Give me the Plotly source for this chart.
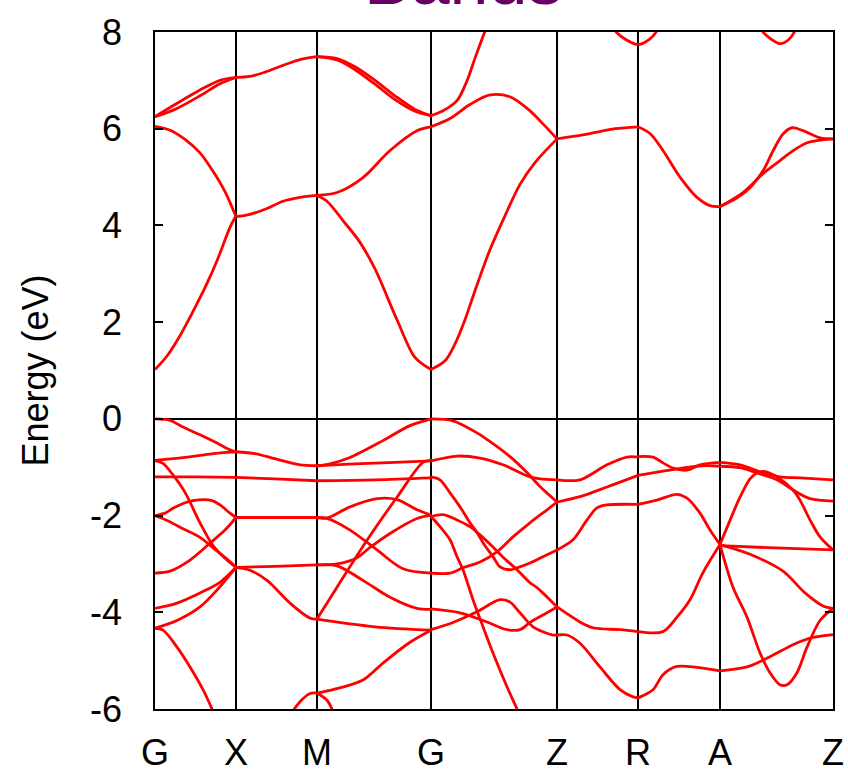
import plotly.graph_objects as go

# High-symmetry points along the k-path
SYM_LABELS = ["G", "X", "M", "G", "Z", "R", "A", "Z"]
SYM_K = [0, 0.81, 1.62, 2.76, 4.02, 4.83, 5.65, 6.78]

# Energy axis ticks
Y_TICKS = [-6, -4, -2, 0, 2, 4, 6, 8]
Y_TICK_TEXT = ["-6", "-4", "-2", "0", "2", "4", "6", "8"]

# ---------------- conduction bands (k, E in eV) ----------------
C01_K = [0, 0.2, 0.45, 0.65, 0.81];                 C01_E = [6.25, 6.5, 6.8, 7.0, 7.06]
C02_K = [0, 0.2, 0.45, 0.65, 0.81];                 C02_E = [6.25, 6.4, 6.68, 6.93, 7.06]
C03_K = [0, 0.15, 0.3, 0.45, 0.58, 0.7, 0.81];      C03_E = [6.05, 5.97, 5.78, 5.5, 5.12, 4.7, 4.18]
C04_K = [0, 0.12, 0.25, 0.4, 0.52, 0.62, 0.75, 0.81]; C04_E = [1.02, 1.3, 1.72, 2.3, 2.8, 3.27, 3.96, 4.2]
C05_K = [0.81, 0.95, 1.1, 1.28, 1.45, 1.62];        C05_E = [7.06, 7.08, 7.17, 7.31, 7.43, 7.49]
C06_K = [0.81, 0.95, 1.12, 1.28, 1.45, 1.62];       C06_E = [4.18, 4.23, 4.35, 4.5, 4.58, 4.62]
C07_K = [1.62, 1.82, 2.0, 2.2, 2.4, 2.6, 2.76];     C07_E = [7.49, 7.45, 7.28, 7.0, 6.68, 6.4, 6.27]
C08_K = [1.62, 1.82, 2.0, 2.2, 2.4, 2.6, 2.76];     C08_E = [7.49, 7.42, 7.22, 6.92, 6.6, 6.36, 6.27]
C09_K = [1.62, 1.82, 2.08, 2.35, 2.62, 2.76];       C09_E = [4.62, 4.68, 4.99, 5.55, 5.96, 6.04]
C10_K = [1.62, 1.72, 1.88, 2.05, 2.2, 2.42, 2.6, 2.76]; C10_E = [4.62, 4.5, 4.1, 3.65, 3.1, 2.05, 1.27, 1.02]
C11_K = [2.76, 2.9, 3.0, 3.1, 3.2, 3.35, 3.5, 3.65, 3.8, 4.02]; C11_E = [1.02, 1.2, 1.55, 2.05, 2.65, 3.5, 4.2, 4.85, 5.3, 5.79]
C12_K = [2.76, 2.95, 3.15, 3.35, 3.55, 3.75, 3.88, 4.02]; C12_E = [6.04, 6.21, 6.5, 6.7, 6.66, 6.37, 6.1, 5.79]
C13_K = [2.76, 2.88, 3.02, 3.12, 3.2, 3.3, 3.34];   C13_E = [6.27, 6.37, 6.58, 6.99, 7.46, 8.02, 8.25]
C14_K = [4.02, 4.35, 4.6, 4.83];                    C14_E = [5.79, 5.9, 6.0, 6.04]
C15_K = [4.83, 4.95, 5.08, 5.25, 5.42, 5.55, 5.65]; C15_E = [6.04, 5.9, 5.55, 5.0, 4.58, 4.41, 4.39]
C16_K = [5.65, 5.82, 5.95, 6.08, 6.18, 6.28, 6.37, 6.48, 6.65, 6.78]; C16_E = [4.39, 4.57, 4.78, 5.13, 5.54, 5.89, 6.02, 5.96, 5.81, 5.79]
C17_K = [5.65, 5.88, 6.08, 6.25, 6.35, 6.52, 6.78]; C17_E = [4.39, 4.68, 5.07, 5.34, 5.5, 5.71, 5.79]
C18_K = [4.56, 4.6, 4.72, 4.83, 4.95, 5.02, 5.06];  C18_E = [8.3, 8.03, 7.83, 7.74, 7.86, 8.03, 8.3]
C19_K = [6.04, 6.07, 6.15, 6.25, 6.33, 6.4, 6.43];  C19_E = [8.3, 8.03, 7.87, 7.76, 7.83, 8.03, 8.3]

# ---------------- valence bands (k, E in eV) ----------------
V01_K = [0, 0.15, 0.28, 0.45, 0.62, 0.75, 0.81];    V01_E = [0, -0.03, -0.17, -0.33, -0.5, -0.64, -0.68]
V02_K = [0, 0.1, 0.28, 0.55, 0.75, 0.81];          V02_E = [-0.86, -0.84, -0.8, -0.73, -0.69, -0.68]
V03_K = [0, 0.4, 0.81];                             V03_E = [-1.2, -1.2, -1.21]
V04_K = [0, 0.08, 0.18, 0.3, 0.45, 0.58, 0.7, 0.81]; V04_E = [-0.86, -0.92, -1.16, -1.52, -2.15, -2.62, -2.88, -3.07]
V05_K = [0, 0.1, 0.18, 0.28, 0.38, 0.57, 0.65, 0.75, 0.81]; V05_E = [-2.0, -1.95, -1.85, -1.75, -1.69, -1.69, -1.78, -1.95, -2.04]
V06_K = [0, 0.12, 0.28, 0.45, 0.6, 0.72, 0.81];     V06_E = [-2.0, -2.1, -2.27, -2.45, -2.7, -2.9, -3.07]
V07_K = [0, 0.15, 0.35, 0.55, 0.7, 0.81];          V07_E = [-3.19, -3.15, -2.92, -2.57, -2.3, -2.04]
V08_K = [0, 0.22, 0.45, 0.65, 0.81];               V08_E = [-3.92, -3.81, -3.6, -3.38, -3.07]
V09_K = [0, 0.22, 0.45, 0.62, 0.81];               V09_E = [-4.33, -4.17, -3.89, -3.54, -3.07]
V10_K = [0, 0.08, 0.22, 0.35, 0.48, 0.57, 0.62];    V10_E = [-4.33, -4.37, -4.72, -5.13, -5.6, -6.0, -6.25]
V11_K = [0.81, 1.0, 1.12, 1.3, 1.45, 1.62];         V11_E = [-0.68, -0.72, -0.78, -0.88, -0.95, -0.97]
V12_K = [0.81, 1.2, 1.62];                          V12_E = [-1.21, -1.24, -1.28]
V13_K = [0.81, 1.2, 1.62];                          V13_E = [-2.04, -2.04, -2.04]
V14_K = [0.81, 1.2, 1.62];                          V14_E = [-3.07, -3.05, -3.02]
V15_K = [0.81, 0.95, 1.12, 1.35, 1.55, 1.62];       V15_E = [-3.07, -3.13, -3.34, -3.81, -4.12, -4.14]
V16_K = [1.36, 1.45, 1.55, 1.62];                   V16_E = [-6.1, -5.85, -5.68, -5.67]
V17_K = [1.62, 1.75, 1.95, 2.28, 2.55, 2.76];       V17_E = [-0.97, -0.93, -0.8, -0.45, -0.14, 0]
V18_K = [1.62, 2.0, 2.4, 2.76];                     V18_E = [-0.97, -0.93, -0.9, -0.87]
V19_K = [1.62, 2.2, 2.76];                          V19_E = [-1.28, -1.26, -1.22]
V20_K = [1.62, 1.72, 1.95, 2.22, 2.42, 2.62, 2.76]; V20_E = [-2.04, -2.05, -1.82, -1.65, -1.67, -1.88, -1.99]
V21_K = [1.62, 1.72, 1.95, 2.22, 2.48, 2.76];       V21_E = [-2.04, -2.06, -2.3, -2.71, -3.1, -3.19]
V22_K = [1.62, 1.82, 2.02, 2.15, 2.35, 2.62, 2.76]; V22_E = [-3.02, -3.0, -2.87, -2.66, -2.37, -2.06, -1.99]
V23_K = [1.62, 1.82, 2.08, 2.35, 2.62, 2.76];       V23_E = [-3.02, -3.04, -3.34, -3.69, -3.92, -3.94]
V24_K = [1.62, 1.82, 2.12, 2.42, 2.68, 2.76];       V24_E = [-4.14, -3.48, -2.51, -1.62, -0.9, -0.86]
V25_K = [1.62, 2.2, 2.76];                          V25_E = [-4.14, -4.3, -4.37]
V26_K = [1.62, 1.78, 2.08, 2.28, 2.55, 2.76];       V26_E = [-5.67, -5.6, -5.4, -5.05, -4.62, -4.37]
V27_K = [1.62, 1.72, 1.77, 1.8];                    V27_E = [-5.67, -5.82, -6.0, -6.15]
V28_K = [2.76, 2.98, 3.22, 3.33, 3.55, 3.72, 3.85, 4.02]; V28_E = [0, -0.04, -0.29, -0.44, -0.78, -1.11, -1.4, -1.72]
V29_K = [2.76, 3.02, 3.25, 3.48, 3.75, 3.85, 4.02]; V29_E = [-0.87, -0.77, -0.81, -0.95, -1.2, -1.24, -1.26]
V30_K = [2.76, 2.85, 2.95, 3.05, 3.15, 3.22, 3.28, 3.38, 3.45, 3.55, 3.62, 3.75, 3.88, 4.02]
V30_E = [-1.2, -1.26, -1.53, -1.82, -2.15, -2.35, -2.56, -2.85, -3.06, -3.12, -3.08, -2.98, -2.85, -2.71]
V31_K = [2.76, 2.88, 3.02, 3.15, 3.25, 3.38, 3.48, 3.62, 3.75, 3.82, 4.02]
V31_E = [-2.02, -1.98, -2.09, -2.23, -2.4, -2.65, -2.86, -3.12, -3.39, -3.49, -3.89]
V32_K = [2.76, 2.85, 2.95, 3.02, 3.08, 3.18, 3.28, 3.38, 3.52, 3.62, 3.66]
V32_E = [-2.02, -2.23, -2.5, -2.85, -3.12, -3.74, -4.3, -4.84, -5.54, -6.0, -6.2]
V33_K = [2.76, 2.95, 3.08, 3.25, 3.42, 3.58, 3.75, 3.92, 4.02]; V33_E = [-3.19, -3.19, -3.08, -2.96, -2.75, -2.44, -2.15, -1.88, -1.72]
V34_K = [2.76, 3.05, 3.32, 3.52, 3.65, 3.75, 3.92, 4.02]; V34_E = [-3.93, -4.01, -4.2, -4.36, -4.36, -4.21, -4.01, -3.89]
V35_K = [2.76, 2.98, 3.22, 3.45, 3.55, 3.65, 3.78, 3.98, 4.02]; V35_E = [-4.36, -4.21, -3.99, -3.74, -3.79, -4.01, -4.3, -4.47, -4.47]
V36_K = [4.02, 4.25, 4.52, 4.72, 4.83];             V36_E = [-1.26, -1.26, -0.95, -0.79, -0.79]
V37_K = [4.02, 4.25, 4.52, 4.83];                   V37_E = [-1.72, -1.61, -1.41, -1.17]
V38_K = [4.02, 4.18, 4.32, 4.42, 4.52, 4.83];       V38_E = [-2.71, -2.5, -2.09, -1.84, -1.78, -1.77]
V39_K = [4.02, 4.25, 4.38, 4.65, 4.83];             V39_E = [-3.89, -4.2, -4.32, -4.36, -4.4]
V40_K = [4.02, 4.12, 4.25, 4.45, 4.65, 4.78, 4.83]; V40_E = [-4.47, -4.47, -4.64, -5.13, -5.6, -5.75, -5.77]
V41_K = [4.83, 4.98, 5.08, 5.18, 5.32, 5.45, 5.65]; V41_E = [-0.78, -0.79, -0.91, -1.02, -1.06, -0.95, -0.9]
V42_K = [4.83, 5.15, 5.48, 5.65];                   V42_E = [-1.17, -1.06, -0.97, -0.98]
V43_K = [4.83, 5.02, 5.22, 5.32, 5.45, 5.55, 5.65]; V43_E = [-1.77, -1.68, -1.56, -1.64, -1.95, -2.3, -2.6]
V44_K = [4.83, 5.08, 5.22, 5.35, 5.48, 5.65];       V44_E = [-4.4, -4.4, -4.1, -3.74, -3.18, -2.6]
V45_K = [4.83, 4.98, 5.08, 5.22, 5.42, 5.65];       V45_E = [-5.77, -5.6, -5.29, -5.12, -5.14, -5.21]
V46_K = [5.65, 5.85, 6.05, 6.25, 6.45, 6.78];       V46_E = [-0.9, -0.95, -1.09, -1.2, -1.22, -1.26]
V47_K = [5.65, 5.85, 6.02, 6.22, 6.38, 6.55, 6.78]; V47_E = [-0.98, -1.01, -1.12, -1.26, -1.47, -1.65, -1.7]
V48_K = [5.65, 5.75, 5.85, 5.95, 6.02, 6.1, 6.22, 6.38, 6.45, 6.55, 6.65, 6.78]
V48_E = [-2.6, -2.1, -1.62, -1.24, -1.12, -1.09, -1.2, -1.47, -1.68, -2.09, -2.44, -2.71]
V49_K = [5.65, 6.2, 6.78];                          V49_E = [-2.62, -2.67, -2.71]
V50_K = [5.65, 5.95, 6.28, 6.5, 6.68, 6.78];        V50_E = [-2.6, -2.8, -3.15, -3.6, -3.87, -3.92]
V51_K = [5.65, 5.78, 5.92, 6.05, 6.15, 6.25, 6.32, 6.42, 6.52, 6.65, 6.78]
V51_E = [-2.6, -3.48, -4.1, -4.84, -5.25, -5.5, -5.5, -5.25, -4.72, -4.17, -3.92]
V52_K = [5.65, 5.92, 6.15, 6.38, 6.58, 6.78];       V52_E = [-5.21, -5.13, -4.92, -4.67, -4.52, -4.46]

CURVES = [
    (C01_K, C01_E), (C02_K, C02_E), (C03_K, C03_E), (C04_K, C04_E), (C05_K, C05_E),
    (C06_K, C06_E), (C07_K, C07_E), (C08_K, C08_E), (C09_K, C09_E), (C10_K, C10_E),
    (C11_K, C11_E), (C12_K, C12_E), (C13_K, C13_E), (C14_K, C14_E), (C15_K, C15_E),
    (C16_K, C16_E), (C17_K, C17_E), (C18_K, C18_E), (C19_K, C19_E),
    (V01_K, V01_E), (V02_K, V02_E), (V03_K, V03_E), (V04_K, V04_E), (V05_K, V05_E),
    (V06_K, V06_E), (V07_K, V07_E), (V08_K, V08_E), (V09_K, V09_E), (V10_K, V10_E),
    (V11_K, V11_E), (V12_K, V12_E), (V13_K, V13_E), (V14_K, V14_E), (V15_K, V15_E),
    (V16_K, V16_E), (V17_K, V17_E), (V18_K, V18_E), (V19_K, V19_E), (V20_K, V20_E),
    (V21_K, V21_E), (V22_K, V22_E), (V23_K, V23_E), (V24_K, V24_E), (V25_K, V25_E),
    (V26_K, V26_E), (V27_K, V27_E), (V28_K, V28_E), (V29_K, V29_E), (V30_K, V30_E),
    (V31_K, V31_E), (V32_K, V32_E), (V33_K, V33_E), (V34_K, V34_E), (V35_K, V35_E),
    (V36_K, V36_E), (V37_K, V37_E), (V38_K, V38_E), (V39_K, V39_E), (V40_K, V40_E),
    (V41_K, V41_E), (V42_K, V42_E), (V43_K, V43_E), (V44_K, V44_E), (V45_K, V45_E),
    (V46_K, V46_E), (V47_K, V47_E), (V48_K, V48_E), (V49_K, V49_E), (V50_K, V50_E),
    (V51_K, V51_E), (V52_K, V52_E),
]

FONT = "Liberation Sans, Arial, sans-serif"

fig = go.Figure()
for k, e in CURVES:
    fig.add_trace(go.Scatter(
        x=k, y=e, mode="lines",
        line=dict(color="#ff0000", width=2.8, shape="spline", smoothing=0.9),
        showlegend=False, hoverinfo="skip",
    ))

fig.update_layout(
    width=848, height=772,
    margin=dict(l=155, r=15, t=32, b=63, autoexpand=False),
    paper_bgcolor="white", plot_bgcolor="white",
    font=dict(family=FONT, size=36, color="black"),
    showlegend=False,
    annotations=[dict(
        text="Bands", xref="paper", yref="paper", x=0.454, y=1.0,
        xanchor="center", yanchor="bottom", yshift=11, showarrow=False,
        font=dict(family=FONT, size=70, color="#660066"),
    )],
)

fig.update_xaxes(
    range=[SYM_K[0], SYM_K[-1]], tickmode="array", tickvals=SYM_K, ticktext=SYM_LABELS,
    showgrid=True, gridcolor="black", gridwidth=1.5,
    showline=True, linecolor="black", linewidth=1.5, mirror=True,
    ticks="", zeroline=False, ticklabelstandoff=11, automargin=False,
    tickfont=dict(family=FONT, size=36, color="black"),
)
fig.update_yaxes(
    range=[-6, 8], tickmode="array", tickvals=Y_TICKS, ticktext=Y_TICK_TEXT,
    showgrid=False, zeroline=True, zerolinecolor="black", zerolinewidth=1.5,
    showline=True, linecolor="black", linewidth=1.5, mirror="ticks",
    ticks="inside", ticklen=8, tickwidth=1.5, tickcolor="black",
    ticklabelstandoff=24, automargin=False,
    tickfont=dict(family=FONT, size=36, color="black"),
    title=dict(text="Energy (eV)", font=dict(family=FONT, size=36, color="black"), standoff=30),
)

fig.write_html("out.html")
